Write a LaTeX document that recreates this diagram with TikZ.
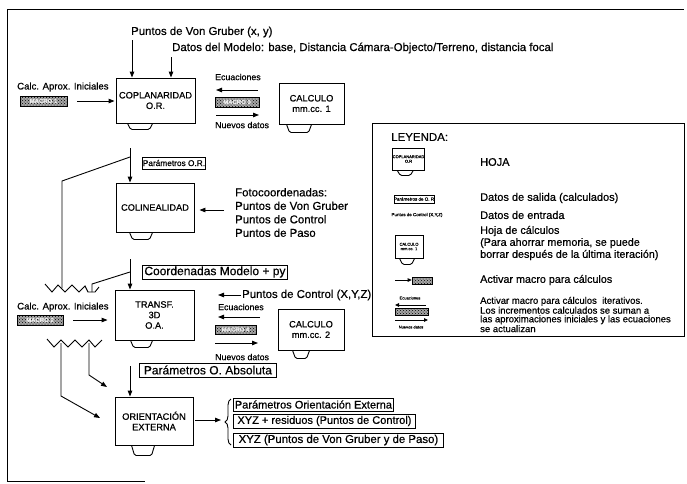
\documentclass[tikz,border=0pt]{standalone}
\usepackage{fontspec}
\setmainfont{Liberation Sans}[FakeBold=0.6]
\usetikzlibrary{patterns,arrows.meta,decorations.pathreplacing,calc}
\newcommand{\hojatab}[4]{\draw[ln,rounded corners=1.5pt] ($(#1.south west)+(#2,0)$) -- ($(#1.south west)+(#2+3,#4)$) -- ($(#1.south west)+(#3-3,#4)$) -- ($(#1.south west)+(#3,0)$);}
\begin{document}
\begin{tikzpicture}[x=1pt,y=-1pt,
  ln/.style={line width=0.9pt},
  arr/.style={ln,-{Triangle[length=6pt,width=4.5pt]}},
  hoja/.style={draw,ln,minimum width=79pt,minimum height=47pt,align=center,inner sep=1pt,font=\fontsize{9.25}{10.5}\selectfont},
  calcbox/.style={hoja,minimum width=65pt,minimum height=41pt},
  lab/.style={draw,ln,inner sep=0pt,anchor=west},
  macro/.style={draw,line width=0.6pt,fill=gray!70,path picture={\fill[pattern=crosshatch dots,pattern color=black] (path picture bounding box.south west) rectangle (path picture bounding box.north east);},inner sep=0pt,text=white!85!gray,font=\bfseries\fontsize{6}{6}\selectfont},
  txt/.style={font=\fontsize{11.4}{13.5}\selectfont,inner sep=0pt},
  small/.style={font=\fontsize{8.8}{10}\selectfont,inner sep=0pt},
  calcfont/.style={font=\fontsize{9.6}{10}\selectfont,inner sep=0pt},
  leg/.style={font=\fontsize{11}{12}\selectfont,inner sep=0pt,anchor=west,align=left},
  tiny/.style={font=\fontsize{4.5}{5}\selectfont,inner sep=0pt}]
\useasboundingbox (0,0) rectangle (687,483);
% frame
\draw[line width=0.8pt] (7,481) -- (7,9) -- (684,9);
\draw[line width=0.8pt] (7,481) -- (145,481);
% top texts
\node[txt,anchor=west] (vg) at (131,32) {Puntos de Von Gruber (x, y)};
\node[txt,anchor=west] (dm) at (172,48) {Datos del Modelo: base, Distancia Cámara-Objecto/Terreno, distancia focal};
% boxes
\node[hoja] (cop) at (155.5,100.5) [minimum height=45pt] {COPLANARIDAD\\O.R.};
\hojatab{cop}{12}{37}{6}
\node[hoja] (col) at (155,207.5) [minimum width=78pt,minimum height=49pt] {COLINEALIDAD};
\hojatab{col}{14}{37}{7}
\node[hoja] (tra) at (154.5,315) [minimum height=50pt] {TRANSF.\\3D\\O.A.};
\hojatab{tra}{16}{38}{7}
\node[hoja] (ori) at (154,421) [minimum width=78pt,minimum height=48pt] {ORIENTACIÓN\\EXTERNA};
\hojatab{ori}{17}{40}{10}
\node[calcbox] (c1) at (311.5,103.5) {CALCULO\\mm.cc. 1};
\hojatab{c1}{8}{33}{8}
\node[calcbox,minimum width=66pt] (c2) at (311,329.5) {CALCULO\\mm.cc. 2};
\hojatab{c2}{15}{32}{8}
% top arrows
\coordinate (a1) at (132,40);
\coordinate (a2) at (171,57);
\draw[arr] (a1) -- (a1 |- cop.north);
\draw[arr] (a2) -- (a2 |- cop.north);
% macro 1
\node[calcfont,anchor=west] (ca1) at (17,87) {Calc. Aprox. Iniciales};
\node[macro,minimum width=47pt,minimum height=10pt] (m1) at (43.5,101) {MACRO 1};
\draw[arr,shorten <=10pt,shorten >=1pt] (m1.east) -- (m1.east -| cop.west);
% macro 3
\node[small,anchor=west] (ec1) at (215,77) {Ecuaciones};
\node[macro,minimum width=44pt,minimum height=10pt] (m3) at (237,102) {MACRO 3};
\coordinate (e1a) at (258,90); \coordinate (e1b) at (216,90);
\draw[arr] (e1a) -- (e1b);
\coordinate (n1a) at (216,115); \coordinate (n1b) at (259,115);
\draw[arr] (n1a) -- (n1b);
\node[small,anchor=west] (nd1) at (215,125) {Nuevos datos};
% Parametros O.R.
\coordinate (p1) at (130,148);
\draw[arr] (p1) -- (p1 |- col.north);
\node[lab,minimum width=63pt,minimum height=12pt,font=\fontsize{8.3}{9}\selectfont] (por) at (142,163) {Parámetros O.R.};
\coordinate (j1) at (130,157); \coordinate (k1) at (62,181); \coordinate (k2) at (62,288);
\draw[ln] (j1) -- (k1) -- (k2);
% fotocoordenadas
\node[txt,anchor=west,align=left] (foto) at (235,212.5) {Fotocoordenadas:\\Puntos de Von Gruber\\Puntos de Control\\Puntos de Paso};
\coordinate (f1) at (224,210);
\draw[arr,shorten >=5pt] (f1) -- (f1 -| col.east);
% Coordenadas modelo
\coordinate (p2) at (130,259);
\draw[arr] (p2) -- (p2 |- tra.north);
\node[lab,minimum width=145pt,minimum height=14pt,font=\fontsize{12}{13}\selectfont] (cmp) at (142,272) {Coordenadas Modelo + py};
\coordinate (j2) at (130,272); \coordinate (k3) at (92,284); \coordinate (k4) at (92,292);
\draw[ln] (j2) -- (k3) -- (k4);
% zigzags
\draw[ln] (45,284) -- (52,292) -- (58,285) -- (65,292) -- (72,285) -- (79,292) -- (85,286) -- (88,292) -- (95,292) -- (99,287);
\draw[ln] (47,339) -- (54,347) -- (61,340) -- (68,347) -- (75,340) -- (82,347) -- (89,340) -- (95,347) -- (102,340);
% macro 2
\node[calcfont,anchor=west] (ca2) at (17,307) {Calc. Aprox. Iniciales};
\node[macro,minimum width=46pt,minimum height=10pt] (m2) at (40,320) {MACRO 2};
\draw[arr,shorten <=10pt,shorten >=7pt] (m2.east) -- (m2.east -| tra.west);
% puntos de control
\node[txt,anchor=west] (pc) at (242,295) {Puntos de Control (X,Y,Z)};
\coordinate (pce) at (218,295);
\draw[arr,shorten <=1pt] (pc.west) -- (pce);
% macro 4
\node[small,anchor=west] (ec2) at (218,307) {Ecuaciones};
\coordinate (e2a) at (260,317); \coordinate (e2b) at (218,317);
\draw[arr] (e2a) -- (e2b);
\node[macro,minimum width=41pt,minimum height=9pt] (m4) at (235.5,329.5) {MACRO 4};
\coordinate (n2a) at (215,343); \coordinate (n2b) at (258,343);
\draw[arr] (n2a) -- (n2b);
\node[small,anchor=west] (nd2) at (215,357) {Nuevos datos};
% Parametros O. Absoluta
\coordinate (p3) at (130,366);
\draw[arr] (p3) -- (p3 |- ori.north);
\node[lab,minimum width=137pt,minimum height=14pt,font=\fontsize{12}{13}\selectfont] (pab) at (139,370) {Parámetros O. Absoluta};
% lower feed arrows
\coordinate (l1) at (61,343); \coordinate (l2) at (61,396); \coordinate (l3) at (100,418);
\draw[arr] (l1) -- (l2) -- (l3);
\coordinate (l4) at (89,343); \coordinate (l5) at (89,375); \coordinate (l6) at (107,387);
\draw[arr] (l4) -- (l5) -- (l6);
% outputs
\coordinate (br) at (221,420);
\draw[arr,shorten <=2pt] (ori.east |- br) -- (br);
\draw[ln,decorate,decoration={brace,amplitude=6pt}] (231,445) -- (231,399);
\node[lab,minimum width=160pt,minimum height=13pt,font=\fontsize{11}{12}\selectfont] (o1) at (233,404.5) {Parámetros Orientación Externa};
\node[lab,minimum width=182pt,minimum height=14pt,font=\fontsize{11}{12}\selectfont] (o2) at (233,421) {XYZ + residuos (Puntos de Control)};
\node[lab,minimum width=210pt,minimum height=14pt,font=\fontsize{11.4}{12}\selectfont] (o3) at (233,440) {XYZ (Puntos de Von Gruber y de Paso)};
% legend
\node[draw,ln,minimum width=312pt,minimum height=213pt,anchor=north west,inner sep=0pt] (legbox) at (372,123) {};
\node[anchor=west,font=\fontsize{11.5}{12}\selectfont,inner sep=0pt] (ley) at (391,137) {LEYENDA:};
\node[draw,ln,minimum width=29pt,minimum height=22pt,align=center,inner sep=0pt,font=\fontsize{4}{4.5}\selectfont] (lh) at (408.5,159) {COPLANARIDAD\\O.R};
\hojatab{lh}{5}{21}{5}
\node[leg] (th) at (480,162) {HOJA};
\node[draw,line width=0.6pt,minimum width=38pt,minimum height=8pt,inner sep=0pt,font=\fontsize{4.5}{5}\selectfont] (lp) at (414,199) {Parámetros de O. R};
\node[leg] (ts) at (480,198) {Datos de salida (calculados)};
\node[tiny] (lpc) at (417,215) {Puntos de Control (X,Y,Z)};
\node[leg] (te) at (480,215) {Datos de entrada};
\node[draw,ln,minimum width=28pt,minimum height=23pt,align=center,inner sep=0pt,font=\fontsize{4}{4.5}\selectfont] (lc) at (409,246.5) {CALCULO\\mm.cc. 1};
\hojatab{lc}{5}{20}{6}
\node[leg,font=\fontsize{10.8}{12}\selectfont] (tc) at (480,243) {Hoja de cálculos\\(Para ahorrar memoria, se puede\\borrar después de la última iteración)};
\node[macro,minimum width=20pt,minimum height=7pt] (lm) at (422,280.5) {};
\coordinate (lma) at (395,280);
\draw[arr,-{Triangle[length=4pt,width=3.5pt]}] (lma) -- (lma -| lm.west);
\node[leg,font=\fontsize{10.75}{12}\selectfont] (ta) at (480,280) {Activar macro para cálculos};
\node[tiny,font=\fontsize{4}{4.5}\selectfont] (lec) at (410,298) {Ecuaciones};
\coordinate (li1) at (426,305); \coordinate (li2) at (395,305);
\draw[arr,-{Triangle[length=4pt,width=3.5pt]}] (li1) -- (li2);
\node[macro,minimum width=33pt,minimum height=7pt] (lm2) at (411.5,311.5) {};
\coordinate (li3) at (395,320); \coordinate (li4) at (428,320);
\draw[arr,-{Triangle[length=4pt,width=3.5pt]}] (li3) -- (li4);
\node[tiny,font=\fontsize{4}{4.5}\selectfont] (lnd) at (411,327) {Nuevos datos};
\node[leg,font=\fontsize{9.5}{8.6}\selectfont] (ti) at (480,314.5) {Activar macro para cálculos\ \ iterativos.\\Los incrementos calculados se suman a\\las aproximaciones iniciales y las ecuaciones\\se actualizan};
\end{tikzpicture}
\end{document}
